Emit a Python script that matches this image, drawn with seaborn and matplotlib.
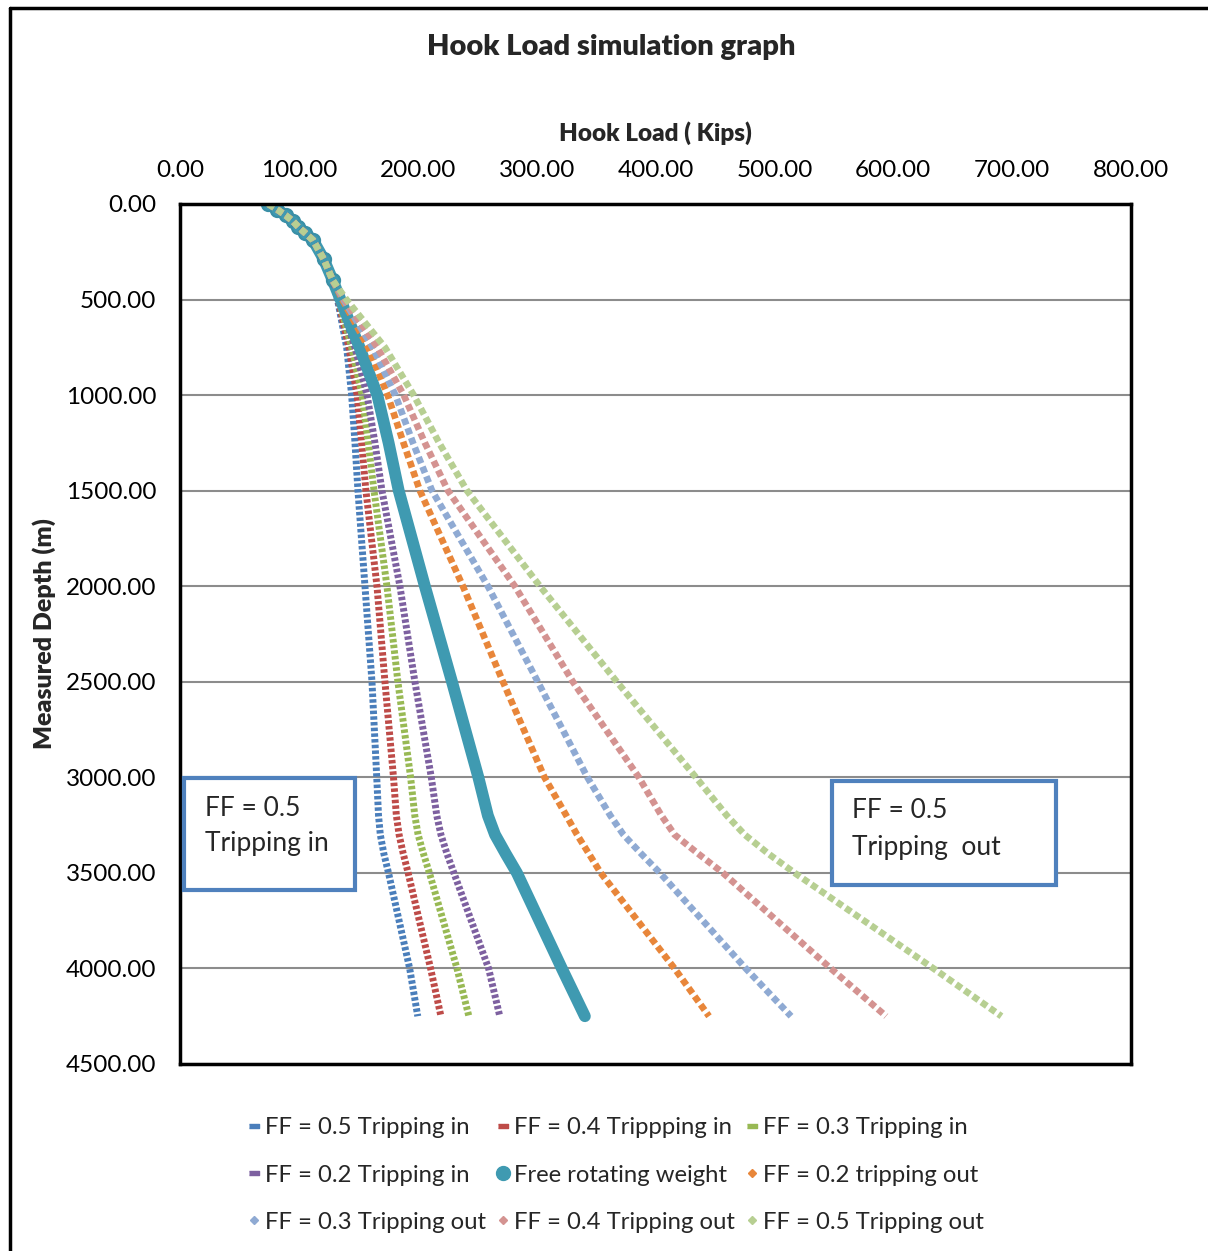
import matplotlib
matplotlib.use("Agg")
import matplotlib.pyplot as plt
from matplotlib.lines import Line2D
from matplotlib.patches import Rectangle
import seaborn as sns
import pandas as pd

sns.set_style("white")
plt.rcParams["font.family"] = ["Lato", "DejaVu Sans"]

# Measured depth (m) of each calculation station
depth_m = [0, 30, 60, 90, 120, 150, 190, 290, 400,
           500, 750, 1000, 1250, 1500, 2000, 2500, 3000, 3200, 3300, 3400, 3500, 4000, 4250]

# Shared hook load (kips) in the vertical top section, 0-400 m
top_section = [74.3, 82.0, 89.0, 95.0, 99.5, 105.0, 112.0, 121.0, 128.5]

# Hook load (kips) below 400 m for each case
ff05_in = [132.5, 140.2, 144.4, 147.2, 149.7, 155.6, 161.5, 165.5, 167.0, 168.5, 171.5, 175.4, 193.2, 200.0]
ff04_in = [133.0, 142.1, 149.0, 152.8, 156.4, 165.7, 172.4, 179.6, 182.0, 184.3, 187.8, 191.9, 210.8, 219.5]
ff03_in = [133.5, 144.4, 153.2, 158.4, 163.2, 174.1, 183.3, 194.0, 197.5, 200.3, 204.8, 209.8, 233.0, 243.0]
ff02_in = [134.0, 147.2, 157.4, 164.0, 169.9, 185.0, 197.6, 211.4, 216.0, 219.5, 224.6, 230.4, 259.6, 269.0]
free_rot = [135.0, 151.0, 166.0, 175.5, 184.0, 206.0, 228.8, 251.0, 259.0, 265.0, 274.0, 283.4, 321.2, 340.6]
ff02_out = [136.5, 158.4, 174.7, 188.0, 201.8, 238.0, 271.7, 306.6, 325.0, 334.0, 344.0, 353.9, 416.0, 445.0]
ff03_out = [137.5, 162.0, 181.2, 196.0, 212.0, 259.0, 301.0, 342.7, 362.0, 373.0, 388.0, 403.7, 475.9, 514.0]
ff04_out = [138.5, 166.0, 188.2, 206.0, 225.4, 281.7, 330.5, 386.0, 405.0, 416.0, 436.0, 456.7, 547.4, 594.0]
ff05_out = [140.0, 172.4, 196.6, 218.0, 241.4, 302.8, 367.5, 434.0, 460.0, 475.0, 495.0, 517.0, 633.8, 691.0]

series_names = ["FF = 0.5 Tripping in", "FF = 0.4 Trippping in", "FF = 0.3 Tripping in",
                "FF = 0.2 Tripping in", "Free rotating weight", "FF = 0.2 tripping out",
                "FF = 0.3 Tripping out", "FF = 0.4 Tripping out", "FF = 0.5 Tripping out"]
series_loads = [ff05_in, ff04_in, ff03_in, ff02_in, free_rot,
                ff02_out, ff03_out, ff04_out, ff05_out]
series_colors = ["#4A7EBB", "#BE4B48", "#98B954", "#7D60A0", "#3F9AB1",
                 "#E8863A", "#8FAAD3", "#D49391", "#B7CF92"]
series_kind = ["in", "in", "in", "in", "free", "out", "out", "out", "out"]

frames = []
for name, tail in zip(series_names, series_loads):
    frames.append(pd.DataFrame({"case": name, "depth": depth_m,
                                "load": top_section + tail}))
df = pd.concat(frames, ignore_index=True)

W, H = 1208, 1251
fig = plt.figure(figsize=(W / 100, H / 100), dpi=100)
ax = fig.add_axes([180 / W, 1 - 1064 / H, (1131 - 180) / W, (1064 - 204) / H])

n_top = len(top_section)
for name, color, kind in zip(series_names, series_colors, series_kind):
    sub = df[df["case"] == name]
    if kind == "in":
        sns.lineplot(data=sub, x="load", y="depth", sort=False, estimator=None, ax=ax,
                     color=color, lw=5.0, linestyle=(0, (0.5, 0.32)),
                     dash_capstyle="butt", dash_joinstyle="round", legend=False)
    elif kind == "out":
        sns.lineplot(data=sub, x="load", y="depth", sort=False, estimator=None, ax=ax,
                     color=color, lw=4.8, linestyle=(0, (1.0, 0.55)),
                     dash_capstyle="butt", dash_joinstyle="round", legend=False)
    else:
        sns.lineplot(data=sub, x="load", y="depth", sort=False, estimator=None, ax=ax,
                     color=color, lw=8.5, solid_capstyle="round", solid_joinstyle="round",
                     marker="o", markersize=9.5, markeredgecolor="#3A8FA6",
                     markerfacecolor=color, markeredgewidth=1.5,
                     markevery=list(range(n_top)), legend=False)

ax.set_xlim(0, 800)
ax.set_ylim(4500, 0)
ax.set_xticks(range(0, 801, 100))
ax.set_yticks(range(0, 4501, 500))
ax.xaxis.set_major_formatter(matplotlib.ticker.FormatStrFormatter("%.2f"))
ax.yaxis.set_major_formatter(matplotlib.ticker.FormatStrFormatter("%.2f"))
ax.xaxis.tick_top()
ax.xaxis.set_label_position("top")
ax.tick_params(axis="both", length=0, labelsize=17.5, colors="black")
ax.tick_params(axis="x", pad=16.5)
ax.tick_params(axis="y", pad=17)
ax.grid(axis="y", color="#8C8C8C", lw=1.5)
ax.grid(axis="x", visible=False)
ax.set_axisbelow(True)
for sp in ax.spines.values():
    sp.set_visible(True)
    sp.set_color("black")
    sp.set_linewidth(2.5)

ax.set_xlabel("Hook Load ( Kips)", fontsize=17.5, fontweight="heavy", labelpad=14)
ax.set_ylabel("Measured Depth (m)", fontsize=18, fontweight="heavy", labelpad=7)
fig.text(611 / W, 1 - 47 / H, "Hook Load simulation graph", ha="center", va="center",
         fontsize=21, fontweight="heavy")

# Outer chart frame (left and top edges)
fig.add_artist(Line2D([10 / W, 10 / W], [0, 1 - 8 / H], transform=fig.transFigure,
                      color="black", lw=2.5))
fig.add_artist(Line2D([10 / W, 1], [1 - 8 / H, 1 - 8 / H], transform=fig.transFigure,
                      color="black", lw=2.5))

# Annotation boxes
def note_box(x0, y0, x1, y1, lines, tx, ty):
    fig.add_artist(Rectangle((x0 / W, 1 - y1 / H), (x1 - x0) / W, (y1 - y0) / H,
                             transform=fig.transFigure, facecolor="white",
                             edgecolor="#4F81BD", lw=3.0, zorder=5))
    for txt, yy in zip(lines, ty):
        fig.text(tx / W, 1 - yy / H, txt, ha="left", va="center", fontsize=19,
                 zorder=6)

note_box(184, 778, 355, 890, ["FF = 0.5", "Tripping in"], 205, [808, 843])
note_box(832, 781, 1056, 885, ["FF = 0.5", "Tripping  out"], 852, [811, 847])

# Legend, laid out row by row in three columns
bar = [(-1, -0.4), (1, -0.4), (1, 0.4), (-1, 0.4)]
handles = []
for color, kind in zip(series_colors, series_kind):
    if kind == "in":
        handles.append(Line2D([], [], ls="none", marker=bar, markersize=7, color=color,
                              markeredgecolor=color))
    elif kind == "out":
        handles.append(Line2D([], [], ls="none", marker="D", markersize=4, color=color,
                              markeredgecolor=color))
    else:
        handles.append(Line2D([], [], ls="none", marker="o", markersize=10, color=color,
                              markeredgecolor=color))
order = [0, 3, 6, 1, 4, 7, 2, 5, 8]
fig.legend([handles[i] for i in order], [series_names[i] for i in order],
           loc="center", bbox_to_anchor=(616 / W, 1 - 1175 / H), ncol=3, frameon=False,
           fontsize=17.2, handlelength=0.5, handletextpad=0.22, columnspacing=0.45,
           labelspacing=1.1)

fig.savefig("out.png", dpi=100, facecolor="white")
